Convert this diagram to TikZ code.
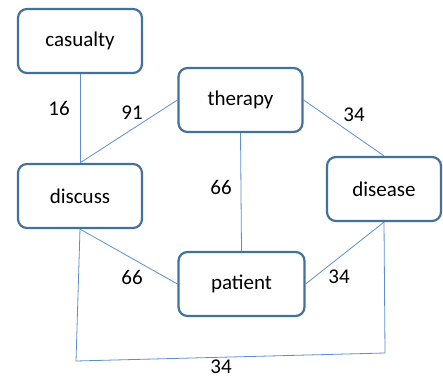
\documentclass[tikz,border=0pt]{standalone}
\usepackage{fontspec}
\setmainfont{Carlito}
\usepackage{tikz}
\usetikzlibrary{arrows,shapes,positioning}
\definecolor{boxblue}{HTML}{41719C}
\definecolor{linkblue}{HTML}{5B8FD0}

\begin{document}
\begin{tikzpicture}[x=1pt, y=-1pt, font=\fontsize{21}{25}\selectfont,
	termbox/.style={rectangle, rounded corners=9pt, draw=boxblue, line width=2.2pt, fill=white, minimum width=124pt, minimum height=64pt},
	link/.style={draw=linkblue, line width=0.8pt},
	weight/.style={inner sep=0pt}]
	\useasboundingbox (0,0) rectangle (443,379);
	\node[termbox] (casualty) at (80,41) {casualty};
	\node[termbox] (discuss) at (80,196) {discuss};
	\node[termbox] (therapy) at (240.5,100) {therapy};
	\node[termbox, minimum width=114pt] (disease) at (384,189) {disease};
	\node[termbox, minimum width=126pt] (patient) at (241.5,284) {patient};
	
	\coordinate (loopa) at (76,361);
	\coordinate (loopb) at (385,353);
	
	\draw[link] (casualty.south) -- (discuss.north);
	\draw[link] (discuss.north) -- (therapy.west);
	\draw[link] (therapy.east) -- (disease.north);
	\draw[link] (therapy.south) -- (patient.north);
	\draw[link] (discuss.south) -- (patient.west);
	\draw[link] (disease.south) -- (patient.east);
	\draw[link] (discuss.south) -- (loopa) -- (loopb) -- (disease.south);
	
	\node[weight] (w16) at (59,108) {16};
	\node[weight] (w91) at (132,113) {91};
	\node[weight] (w34a) at (354,115) {34};
	\node[weight] (w66a) at (221,187) {66};
	\node[weight] (w66b) at (132,277) {66};
	\node[weight] (w34b) at (339,277) {34};
	\node[weight] (w34c) at (221,367) {34};
\end{tikzpicture}
\end{document}
